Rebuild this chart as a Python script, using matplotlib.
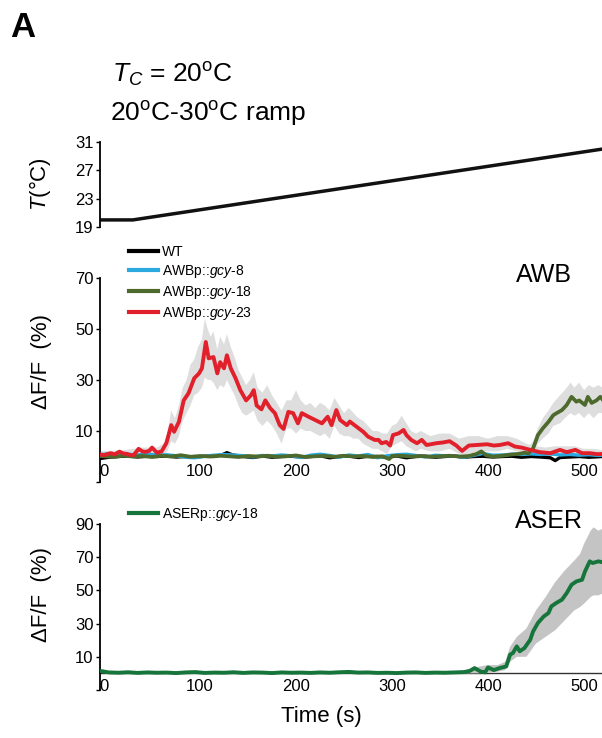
import matplotlib
matplotlib.use('Agg')
import matplotlib.pyplot as plt
import numpy as np

plt.rcParams['font.family'] = ['Liberation Sans', 'DejaVu Sans']
plt.rcParams['mathtext.fontset'] = 'custom'
plt.rcParams['mathtext.rm'] = 'Liberation Sans'
plt.rcParams['mathtext.it'] = 'Liberation Sans:italic'
plt.rcParams['mathtext.bf'] = 'Liberation Sans:bold'

# ---------------- data ----------------
temp_t = [-4, 30, 519]
temp_v = [20, 20, 30]

red_t = [-4, 0, 4, 7, 11, 16, 20, 24, 28, 31,
         36, 40, 43, 47, 50, 55, 60, 65, 70, 73,
         78, 83, 88, 94, 99, 102, 106, 109, 114, 118,
         121, 125, 128, 132, 137, 142, 148, 153, 156, 159,
         164, 168, 173, 178, 183, 187, 192, 197, 202, 206,
         213, 220, 227, 233, 237, 242, 246, 253, 256, 263,
         270, 275, 282, 286, 289, 294, 298, 301, 307, 312,
         315, 320, 326, 331, 336, 346, 353, 360, 367, 373,
         380, 388, 399, 406, 412, 421, 428, 435, 444, 454,
         465, 475, 482, 491, 498, 506, 514, 519]
red_v = [0.8, 0.5, 1.0, 1.3, 0.8, 1.9, 1.2, 1.0, 0.5, 0.6,
         3.0, 2.0, 1.8, 2.2, 3.5, 1.5, 2.0, 5.3, 12.3, 9.7,
         13.6, 22.0, 24.8, 30.7, 32.6, 34.6, 44.9, 38.5, 39.0, 32.6,
         37.0, 34.6, 39.7, 34.6, 30.7, 26.0, 22.0, 24.0, 26.0, 20.0,
         18.5, 22.0, 19.0, 17.0, 12.3, 10.8, 17.5, 17.0, 13.0, 17.0,
         15.6, 14.3, 13.0, 15.6, 12.3, 18.2, 14.3, 12.3, 13.7, 11.7,
         9.7, 7.8, 6.5, 6.5, 5.2, 5.7, 4.3, 8.4, 9.1, 10.4,
         8.4, 6.5, 5.2, 6.5, 4.5, 5.2, 5.5, 6.0, 4.3, 2.2,
         4.3, 4.5, 4.8, 4.3, 4.5, 5.2, 3.9, 3.5, 2.6, 1.7,
         1.3, 2.6, 1.7, 2.6, 1.3, 1.3, 0.9, 1.0]

red_band_t = [-4, 20, 40, 55, 62, 66, 70, 74, 78, 82,
              86, 90, 94, 98, 102, 105, 108, 111, 114, 118,
              121, 125, 128, 132, 136, 140, 144, 148, 152, 156,
              160, 165, 170, 175, 180, 185, 190, 195, 200, 205,
              210, 215, 220, 225, 230, 235, 240, 245, 250, 255,
              260, 265, 270, 275, 280, 285, 290, 295, 300, 305,
              310, 315, 320, 325, 330, 340, 350, 360, 370, 380,
              390, 400, 410, 420, 430, 440, 450, 460, 470, 480,
              490, 500, 510, 519]
red_band_hi = [2, 2.5, 3.5, 3.5, 5, 9, 18, 15, 20, 27,
               30, 36, 38, 43, 46, 54, 50, 47, 49, 42,
               47, 44, 48, 43, 39, 34, 31, 28, 30, 33,
               27, 25, 28, 24, 21, 18, 22, 22, 26, 22,
               20, 21, 19, 21, 20, 18, 23, 20, 17, 19,
               17, 15, 14, 12, 10, 10, 9, 9, 12, 13,
               16, 13, 10, 9, 10, 8, 9, 9, 7, 8,
               8, 7, 8, 8, 7, 5, 4, 3.5, 4, 4,
               4, 3, 3, 2.5]
red_band_lo = [0, 0, 0.5, 0.5, 0.5, 2, 6, 5, 8, 14,
               17, 20, 24, 25, 27, 31, 30, 30, 29, 26,
               28, 27, 30, 27, 24, 20, 17, 16, 17, 18,
               14, 12, 14, 12, 9, 5, 11, 11, 9, 11,
               10, 10, 9, 8, 9, 7, 12, 9, 8, 8,
               7, 7, 5, 4, 3, 3, 2, 1, 4, 5,
               6, 4, 3, 2, 3, 2, 2, 3, 1, 1,
               2, 2, 2, 3, 2, 1, 0, 0, 0.5, 0,
               0.5, 0, 0, 0]

olive_t = [-4, 10, 20, 30, 40, 50, 60, 70, 80, 90,
           100, 110, 120, 130, 140, 150, 160, 170, 180, 190,
           200, 210, 220, 230, 240, 250, 260, 270, 280, 290,
           297, 300, 310, 320, 330, 340, 350, 360, 370, 380,
           388, 393, 398, 405, 415, 425, 432, 438, 442, 447,
           452, 457, 463, 468, 471, 477, 482, 487, 492, 495,
           501, 504, 508, 513, 517, 519]
olive_v = [0.2, -0.2, 0.3, 0.0, 0.2, -0.2, 0.3, 0.0, 0.5, -0.1,
           0.2, 0.0, 0.3, 0.1, -0.2, 0.2, 0.0, 0.3, -0.1, 0.1,
           0.4, -0.2, 0.1, 0.2, -0.1, 0.3, 0.0, 0.2, -0.2, 0.1,
           -1.0, 0.2, 0.3, 0.0, 0.2, -0.1, 0.1, 0.3, 0.0, 0.2,
           1.0, 2.0, 0.5, 0.0, 0.3, 0.8, 1.0, 1.5, 1.2, 3.2,
           8.4, 11.0, 13.6, 16.2, 16.9, 18.2, 20.2, 23.4, 21.5, 22.0,
           20.2, 23.4, 21.0, 22.0, 23.4, 22.5]
olive_band_t = [440, 447, 452, 457, 463, 468, 475, 480, 486, 490,
                495, 500, 505, 510, 515, 519]
olive_band_hi = [2.5, 6, 11, 15, 18, 21, 24, 26, 29, 27, 29, 26, 28, 27, 28, 27]
olive_band_lo = [0, 1, 5, 7, 9, 12, 13, 15, 17, 16, 17, 15, 17, 15, 17, 17]

blue_t = [-4, 5, 15, 25, 35, 45, 55, 65, 75, 85,
          95, 105, 115, 125, 135, 145, 155, 165, 175, 185,
          195, 205, 215, 225, 235, 245, 255, 265, 275, 285,
          295, 305, 315, 325, 335, 345, 355, 365, 375, 385,
          395, 405, 415, 425, 435, 445, 455, 465, 475, 485,
          495, 505, 515, 519]
blue_v = [0.8, 1.0, 0.7, 0.9, 0.6, 1.0, 0.5, 0.7, 0.3, -0.3,
          -0.5, 0.2, 0.5, 0.8, 0.6, 0.3, -0.2, 0.4, 0.2, 0.6,
          0.3, -0.4, 0.5, 0.9, 0.4, -0.3, 0.6, 0.2, 0.8, -0.5,
          0.3, 0.7, 0.9, 0.4, -0.2, 0.5, 0.3, 0.2, -0.3, 0.4,
          1.2, 0.5, 0.6, 0.9, 0.8, 1.0, 0.8, 1.0, 0.6, 0.8,
          0.5, 0.7, 0.4, 0.5]

black_t = [-4, 5, 15, 25, 35, 45, 55, 65, 75, 85,
           95, 105, 115, 122, 128, 134, 145, 155, 165, 175,
           185, 195, 205, 215, 225, 235, 245, 255, 265, 275,
           285, 295, 305, 315, 325, 335, 345, 355, 365, 375,
           385, 395, 405, 415, 425, 435, 445, 455, 465, 470,
           475, 485, 495, 505, 515, 519]
black_v = [-0.8, -0.3, 0.0, 0.2, -0.2, 0.1, 0.0, 0.2, -0.2, 0.0,
           -0.3, 0.1, 0.0, 0.5, 1.5, 0.6, 0.0, -0.4, 0.2, -0.3,
           0.0, 0.1, -0.2, 0.0, 0.3, -0.5, 0.0, 0.2, -0.4, 0.1,
           0.0, -0.3, 0.2, -0.5, 0.0, 0.1, -0.3, 0.0, 0.2, -0.3,
           0.0, 0.1, -0.2, 0.0, 0.1, -0.3, 0.0, -0.2, -0.5, -1.6,
           -0.4, -0.2, 0.0, -0.3, -0.1, 0.0]

aser_t = [-4, 5, 15, 25, 35, 45, 55, 65, 75, 85,
          95, 105, 115, 125, 135, 145, 155, 165, 175, 185,
          195, 205, 215, 225, 235, 245, 255, 265, 275, 285,
          295, 305, 315, 325, 335, 345, 355, 365, 375, 381,
          386, 392, 397, 400, 406, 412, 419, 423, 426, 430,
          433, 438, 444, 447, 452, 458, 463, 466, 471, 477,
          482, 487, 492, 498, 501, 506, 509, 515, 519]
aser_v = [1.5, 0.6, 0.4, 0.7, 0.3, 0.6, 0.4, 0.5, 0.2, 0.6,
          0.8, 0.3, 0.5, 0.4, 0.7, 0.3, 0.6, 0.5, 0.2, 0.6,
          0.4, 0.5, 0.3, 0.6, 0.4, 0.7, 0.9, 0.5, 0.6, 0.3,
          0.4, 0.2, 0.5, 0.6, 0.3, 0.5, 0.4, 0.6, 0.8, 1.5,
          3.2, 1.2, 0.6, 3.6, 2.0, 3.2, 4.2, 11.3, 12.3, 16.3,
          13.3, 15.3, 20.3, 25.3, 30.4, 34.3, 36.4, 40.4, 42.4, 44.4,
          48.4, 53.4, 55.4, 56.4, 61.4, 67.5, 66.5, 67.5, 67.0]
aser_band_t = [370, 380, 390, 400, 410, 418, 423, 430, 440, 450,
               460, 470, 480, 490, 496, 500, 507, 510, 515, 519]
aser_band_hi = [1, 2.5, 4, 5, 5, 7, 16, 22, 27, 38, 46, 55, 62, 68, 72, 78, 86, 88, 86, 87]
aser_band_lo = [0, 0, 0, 0.5, 1, 2, 7, 10, 10, 18, 22, 26, 32, 38, 40, 42, 46, 47, 47, 48]

x_ticks = [0, 100, 200, 300, 400, 500]
temp_ticks = [19, 23, 27, 31]
awb_ticks = [10, 30, 50, 70]
aser_ticks = [10, 30, 50, 70, 90]

awb_labels = ['WT', r'AWBp::$\mathit{gcy}$-$\mathit{8}$',
              r'AWBp::$\mathit{gcy}$-$\mathit{18}$', r'AWBp::$\mathit{gcy}$-$\mathit{23}$']
aser_label = r'ASERp::$\mathit{gcy}$-$\mathit{18}$'

# ---------------- style ----------------
C_RED = '#e2202b'
C_BLUE = '#29a9e0'
C_OLIVE = '#4d6a2c'
C_BLACK = '#000000'
C_ASER = '#15753a'
C_BAND = '#dedede'
C_BAND2 = '#c4c4c4'

W, H = 602, 738
fig = plt.figure(figsize=(W / 100, H / 100), dpi=100)


def axes_px(left, top, right, bottom):
    return fig.add_axes([left / W, 1 - bottom / H, (right - left) / W, (bottom - top) / H])


XLIM = (-4.2, 518.75)


def style(ax, ylim, yticks, ylabels, show_x, xpad):
    ax.set_xlim(XLIM)
    ax.set_ylim(ylim)
    for s in ['top', 'right', 'bottom']:
        ax.spines[s].set_visible(False)
    ax.spines['left'].set_linewidth(1.3)
    ax.set_yticks(yticks)
    ax.set_yticklabels(ylabels)
    ax.tick_params(axis='y', direction='out', length=3, width=1.0, labelsize=12, pad=1.5)
    if show_x:
        ax.set_xticks(x_ticks)
        ax.set_xticklabels([str(v) for v in x_ticks])
        ax.tick_params(axis='x', length=0, pad=xpad, labelsize=12)
    else:
        ax.set_xticks([])
    ax.patch.set_alpha(0)


# top panel
ax0 = axes_px(100, 142, 602, 227)
ax0.plot(temp_t, temp_v, color='#111111', lw=2.5, solid_capstyle='butt')
style(ax0, (19, 31), temp_ticks, [str(v) for v in temp_ticks], False, 0)
ax0.set_ylabel(r'$\mathit{T}$(°C)', fontsize=16)
ax0.yaxis.set_label_coords((53 - 100) / 502, (227 - 184) / 85)

# middle panel
ax1 = axes_px(100, 278, 602, 482)
ax1.fill(np.r_[red_band_t, red_band_t[::-1]], np.r_[red_band_hi, red_band_lo[::-1]],
         color=C_BAND, lw=0, zorder=1)
ax1.fill(np.r_[olive_band_t, olive_band_t[::-1]], np.r_[olive_band_hi, olive_band_lo[::-1]],
         color=C_BAND, lw=0, zorder=1)
h_black, = ax1.plot(black_t, black_v, color=C_BLACK, lw=2.4, zorder=2)
h_blue, = ax1.plot(blue_t, blue_v, color=C_BLUE, lw=2.4, zorder=3)
h_olive, = ax1.plot(olive_t, olive_v, color=C_OLIVE, lw=2.7, zorder=4)
h_red, = ax1.plot(red_t, red_v, color=C_RED, lw=2.8, zorder=5)
style(ax1, (-10, 70), [-10] + awb_ticks, [''] + [str(v) for v in awb_ticks], True, -13)
ax1.set_ylabel('ΔF/F  (%)', fontsize=16)
ax1.yaxis.set_label_coords((52 - 100) / 502, (482 - 362) / 204)

# bottom panel
ax2 = axes_px(100, 524, 602, 690)
ax2.axhline(0, color='#333333', lw=1.0, zorder=1)
ax2.fill(np.r_[aser_band_t, aser_band_t[::-1]], np.r_[aser_band_hi, aser_band_lo[::-1]],
         color=C_BAND2, lw=0, zorder=1.5)
h_aser, = ax2.plot(aser_t, aser_v, color=C_ASER, lw=2.8, zorder=3)
style(ax2, (-10, 90), [-10] + aser_ticks, [''] + [str(v) for v in aser_ticks], True, -8)
ax2.set_ylabel('ΔF/F  (%)', fontsize=16)
ax2.yaxis.set_label_coords((52 - 100) / 502, (690 - 595) / 166)
ax2.set_xlabel('Time (s)', fontsize=16)
ax2.xaxis.set_label_coords((321 - 100) / 502, (690 - 706) / 166)

# legends
leg1 = fig.legend([h_black, h_blue, h_olive, h_red], awb_labels, loc='upper left',
                  bbox_to_anchor=(129 / W, 1 - 245 / H), frameon=False, fontsize=10,
                  handlelength=2.09, handletextpad=0.3, labelspacing=0.28,
                  borderpad=0, borderaxespad=0)
for lh in leg1.legend_handles:
    lh.set_linewidth(3.0)
leg2 = fig.legend([h_aser], [aser_label], loc='upper left',
                  bbox_to_anchor=(129 / W, 1 - 506 / H), frameon=False, fontsize=10,
                  handlelength=2.09, handletextpad=0.3, borderpad=0, borderaxespad=0)
for lh in leg2.legend_handles:
    lh.set_linewidth(3.0)

# texts
fig.text(10 / W, 1 - 37 / H, 'A', fontsize=25, fontweight='bold', va='baseline')
fig.text(112 / W, 1 - 83 / H, r'$\mathit{T}_{\mathit{C}}$ = 20$^{\mathrm{o}}$C',
         fontsize=19, va='baseline')
fig.text(110 / W, 1 - 121 / H, r'20$^{\mathrm{o}}$C-30$^{\mathrm{o}}$C ramp',
         fontsize=19, va='baseline')
fig.text(572 / W, 1 - 282 / H, 'AWB', fontsize=18, ha='right', va='baseline')
fig.text(583 / W, 1 - 528 / H, 'ASER', fontsize=18, ha='right', va='baseline')

fig.savefig('out.png', dpi=100)
